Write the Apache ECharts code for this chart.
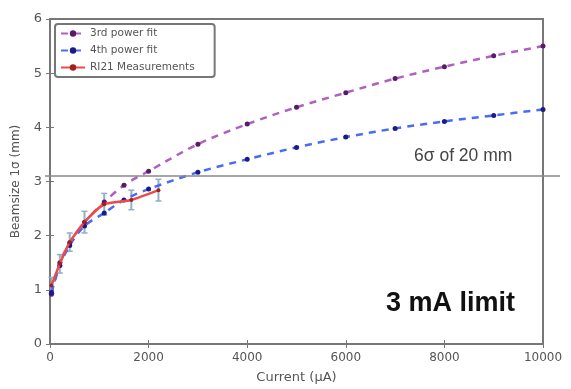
<!DOCTYPE html>
<html><head><meta charset="utf-8">
<script src="https://cdn.jsdelivr.net/npm/echarts@6/dist/echarts.min.js"></script>
<style>html,body{margin:0;padding:0;background:#fff}#c{width:571px;height:389px}</style>
</head><body><div id="c"></div>
<script>
const xTicks = [0, 2000, 4000, 6000, 8000, 10000];
const yTicks = [0, 1, 2, 3, 4, 5, 6];
const fitX = [30, 200, 400, 700, 1100, 1500, 2000, 3000, 4000, 5000, 6000, 7000, 8000, 9000, 10000];
const fit3 = [0.92, 1.50, 1.87, 2.25, 2.62, 2.93, 3.19, 3.69, 4.06, 4.37, 4.64, 4.90, 5.12, 5.32, 5.50];
const fit4 = [0.95, 1.45, 1.82, 2.18, 2.42, 2.66, 2.86, 3.17, 3.41, 3.63, 3.82, 3.98, 4.11, 4.22, 4.33];
const measX = [30, 200, 400, 700, 1100, 1650, 2200];
const measY = [1.08, 1.48, 1.88, 2.25, 2.58, 2.66, 2.84];
const measErr = [0.15, 0.17, 0.17, 0.2, 0.2, 0.18, 0.2];
const limitY = 3.1;
const names = ['3rd power fit', '4th power fit', 'RI21 Measurements'];

const font = 'DejaVu Sans';
const chart = echarts.init(document.getElementById('c'));
const pairs = (xs, ys) => xs.map((x, i) => [x, ys[i]]);
const errData = measX.map((x, i) => [x, measY[i] - measErr[i], measY[i] + measErr[i]]);

const axisCommon = {
  axisLine: {show: false},
  splitLine: {show: false},
  axisTick: {inside: true, length: 4, lineStyle: {color: '#777', width: 1}},
};
chart.setOption({
  animation: false,
  grid: {left: 50, right: 28, top: 19, bottom: 41, show: true, borderColor: '#777', borderWidth: 2},
  xAxis: [
    Object.assign({type: 'value', min: 0, max: 10000, interval: 2000,
      name: 'Current (\u03bcA)', nameLocation: 'middle', nameGap: 27,
      nameTextStyle: {fontFamily: font, fontSize: 13, color: '#555'},
      axisLabel: {fontFamily: font, fontSize: 12, color: '#555', margin: 8,
        formatter: v => String(v)}}, axisCommon),
    Object.assign({type: 'value', min: 0, max: 10000, interval: 2000, position: 'top',
      axisLabel: {show: false}}, axisCommon)
  ],
  yAxis: [
    Object.assign({type: 'value', min: 0, max: 6, interval: 1,
      name: 'Beamsize 1\u03c3 (mm)', nameLocation: 'middle', nameGap: 28,
      nameTextStyle: {fontFamily: font, fontSize: 12, color: '#555'},
      axisLabel: {fontFamily: font, fontSize: 13, color: '#555', margin: 8}}, axisCommon),
    Object.assign({type: 'value', min: 0, max: 6, interval: 1, position: 'right',
      axisLabel: {show: false}}, axisCommon)
  ],
  legend: {
    left: 55, top: 24, orient: 'vertical', itemGap: 6, itemWidth: 24, itemHeight: 8,
    padding: [4, 20, 4, 5], borderColor: '#777', borderWidth: 2, borderRadius: 3,
    textStyle: {fontFamily: font, fontSize: 10.5, color: '#555'},
    data: names
  },
  series: [
    {name: names[0], type: 'line', data: pairs(fitX, fit3), smooth: 0.3,
     symbol: 'circle', symbolSize: 5,
     lineStyle: {color: '#b060c0', width: 2.5, type: [7, 6]},
     itemStyle: {color: '#5a1a6a'}, z: 3},
    {name: names[1], type: 'line', data: pairs(fitX, fit4), smooth: 0.3,
     symbol: 'circle', symbolSize: 5,
     lineStyle: {color: '#4a6cf5', width: 2.5, type: [7, 6]},
     itemStyle: {color: '#1a1a8a'}, z: 3},
    {name: 'err', type: 'custom', data: errData, z: 2,
     renderItem: function (params, api) {
       const x = api.value(0);
       const lo = api.coord([x, api.value(1)]);
       const hi = api.coord([x, api.value(2)]);
       const w = 3;
       return {type: 'group', children: [
         {type: 'line', shape: {x1: lo[0], y1: lo[1], x2: hi[0], y2: hi[1]}, style: {stroke: '#8fb0c6', lineWidth: 2}},
         {type: 'line', shape: {x1: lo[0]-w, y1: lo[1], x2: lo[0]+w, y2: lo[1]}, style: {stroke: '#8fb0c6', lineWidth: 1.5}},
         {type: 'line', shape: {x1: hi[0]-w, y1: hi[1], x2: hi[0]+w, y2: hi[1]}, style: {stroke: '#8fb0c6', lineWidth: 1.5}}
       ]};
     }},
    {name: names[2], type: 'line', data: pairs(measX, measY), smooth: 0.2,
     symbol: 'circle', symbolSize: 4,
     lineStyle: {color: '#f04848', width: 2.5},
     itemStyle: {color: '#a02020'}, z: 4}
  ]
});

function drawExtras() {
  const yPix = chart.convertToPixel({yAxisIndex: 0}, limitY);
  const x0 = chart.convertToPixel({xAxisIndex: 0}, 0);
  const x1 = chart.convertToPixel({xAxisIndex: 0}, 10000);
  chart.setOption({graphic: [
    {type: 'line', shape: {x1: x0 - 5, y1: yPix, x2: x1 + 17, y2: yPix},
     style: {stroke: '#888', lineWidth: 1.5}, z: 5},
    {type: 'text', left: 414, top: 147,
     style: {text: '6\u03c3 of 20 mm', fontFamily: 'Liberation Sans', fontSize: 17.5, fill: '#444'}, z: 6},
    {type: 'text', left: 386, top: 290,
     style: {text: '3 mA limit', fontFamily: 'Liberation Sans', fontSize: 27, fontWeight: 'bold', fill: '#111'}, z: 6}
  ]});
}
drawExtras();
</script></body></html>
